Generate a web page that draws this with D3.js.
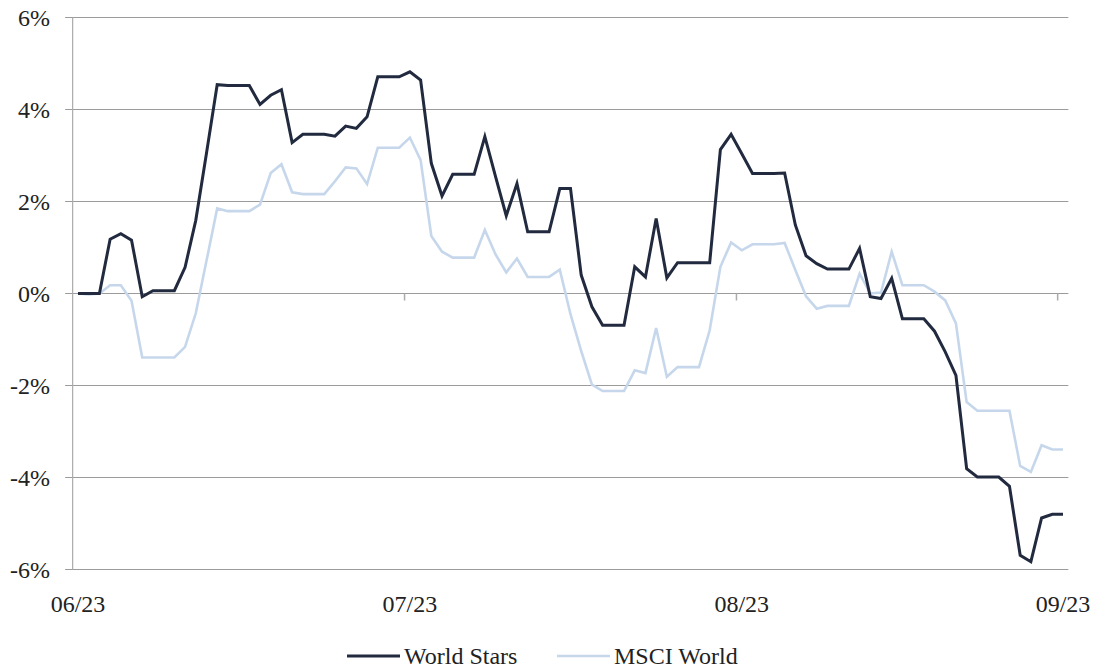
<!DOCTYPE html>
<html>
<head>
<meta charset="utf-8">
<script src="https://cdn.jsdelivr.net/npm/d3@7"></script>
<style>
  html, body { margin: 0; padding: 0; background: #fff; }
  svg { display: block; }
</style>
</head>
<body>
<svg id="chart" width="1100" height="668"></svg>
<script>
// Daily index positions (0 = 06/23 start, 92 = 09/23 start)
const worldStars = [
  0, 0, 0, 1.18, 1.30, 1.16, -0.07, 0.06, 0.06, 0.06,
  0.57, 1.59, 3.05, 4.54, 4.52, 4.52, 4.52, 4.11, 4.31, 4.43,
  3.28, 3.46, 3.46, 3.46, 3.42, 3.64, 3.59, 3.84, 4.71, 4.71,
  4.71, 4.82, 4.64, 2.83, 2.12, 2.59, 2.59, 2.59, 3.41, 2.54,
  1.69, 2.39, 1.34, 1.34, 1.34, 2.28, 2.28, 0.40, -0.29, -0.69,
  -0.69, -0.69, 0.58, 0.36, 1.63, 0.34, 0.67, 0.67, 0.67, 0.67,
  3.13, 3.46, 3.04, 2.61, 2.61, 2.61, 2.62, 1.49, 0.82, 0.65,
  0.53, 0.53, 0.53, 0.98, -0.07, -0.11, 0.33, -0.55, -0.55, -0.55,
  -0.82, -1.27, -1.78, -3.81, -3.99, -3.99, -3.99, -4.19, -5.69, -5.83,
  -4.88, -4.80, -4.80
];
const msciWorld = [
  0, -0.02, 0, 0.18, 0.18, -0.16, -1.39, -1.39, -1.39, -1.39,
  -1.16, -0.43, 0.71, 1.85, 1.79, 1.79, 1.79, 1.93, 2.62, 2.81,
  2.20, 2.16, 2.16, 2.16, 2.44, 2.74, 2.72, 2.38, 3.17, 3.17,
  3.17, 3.39, 2.90, 1.25, 0.91, 0.78, 0.78, 0.78, 1.38, 0.85,
  0.46, 0.76, 0.36, 0.36, 0.36, 0.52, -0.45, -1.25, -1.98, -2.12,
  -2.12, -2.12, -1.67, -1.73, -0.75, -1.81, -1.60, -1.60, -1.60, -0.80,
  0.58, 1.11, 0.94, 1.07, 1.07, 1.07, 1.10, 0.51, -0.06, -0.33,
  -0.27, -0.27, -0.27, 0.43, 0.0, 0.02, 0.91, 0.18, 0.18, 0.18,
  0.04, -0.15, -0.65, -2.36, -2.55, -2.55, -2.55, -2.55, -3.75, -3.88,
  -3.30, -3.39, -3.39
];
const seriesNames = ["World Stars", "MSCI World"];
const xLabels = ["06/23", "07/23", "08/23", "09/23"];
const xLabelIdx = [0, 31, 62, 92];
const xTickIdx = [30.5, 61.5, 91.5];
const yTicks = [-6, -4, -2, 0, 2, 4, 6];

const colors = ["#212a3e", "#c6d7ec"];
const widths = [3, 2.6];
const FONT = "'Liberation Serif', 'DejaVu Serif', serif";

const svg = d3.select("#chart");
const x = d3.scaleLinear().domain([0, worldStars.length - 1]).range([78, 1063]);
const y = d3.scaleLinear().domain([-6, 6]).range([569.5, 17.5]);
const xLeft = x(-0.5), xRight = x(92.5);

// gridlines
svg.append("g").selectAll("line").data(yTicks).join("line")
  .attr("x1", xLeft - 7.5).attr("x2", xRight)
  .attr("y1", d => y(d)).attr("y2", d => y(d))
  .attr("stroke", "#9b9b9b").attr("stroke-width", 1.2);

// y axis line
svg.append("line")
  .attr("x1", xLeft).attr("x2", xLeft)
  .attr("y1", y(6)).attr("y2", y(-6))
  .attr("stroke", "#ababab").attr("stroke-width", 1.2);

// y labels
svg.append("g").selectAll("text").data(yTicks).join("text")
  .attr("x", 50).attr("y", d => y(d))
  .attr("dy", "0.35em")
  .attr("text-anchor", "end")
  .style("font-family", FONT)
  .attr("font-size", 24)
  .attr("fill", "#222")
  .text(d => d + "%");

// x tick marks at 0 line
svg.append("g").selectAll("line").data(xTickIdx).join("line")
  .attr("x1", d => x(d)).attr("x2", d => x(d))
  .attr("y1", y(0)).attr("y2", y(0) + 7)
  .attr("stroke", "#ababab").attr("stroke-width", 1.5);

// x labels
svg.append("g").selectAll("text").data(xLabels).join("text")
  .attr("x", (d, i) => x(xLabelIdx[i]))
  .attr("y", 612)
  .attr("text-anchor", "middle")
  .style("font-family", FONT)
  .attr("font-size", 24)
  .attr("fill", "#222")
  .text(d => d);

const line = d3.line().x((d, i) => x(i)).y(d => y(d));
[msciWorld, worldStars].forEach((s, k) => {
  const ci = k === 0 ? 1 : 0;
  svg.append("path").datum(s)
    .attr("d", line)
    .attr("fill", "none")
    .attr("stroke", colors[ci])
    .attr("stroke-width", widths[ci])
    .attr("stroke-linejoin", "miter");
});

// legend
const legendX = [347, 557];
const lg = svg.append("g");
seriesNames.forEach((name, i) => {
  lg.append("line")
    .attr("x1", legendX[i]).attr("x2", legendX[i] + 53)
    .attr("y1", 656).attr("y2", 656)
    .attr("stroke", colors[i]).attr("stroke-width", widths[i]);
  lg.append("text")
    .attr("x", legendX[i] + 57).attr("y", 664)
    .style("font-family", FONT)
    .attr("font-size", 24)
    .attr("fill", "#222")
    .text(name);
});
</script>
</body>
</html>
